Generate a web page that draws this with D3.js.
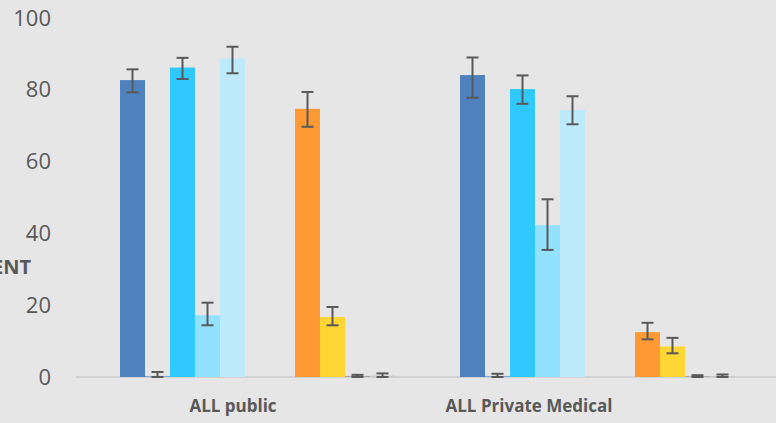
<!DOCTYPE html>
<html>
<head>
<meta charset="utf-8">
<script src="https://cdn.jsdelivr.net/npm/d3@7"></script>
<style>
  html, body { margin: 0; padding: 0; background: #e6e6e6; }
  svg { display: block; }
</style>
</head>
<body>
<div id="chart"></div>
<script>
// Categories and series (two empty slots sit between the blues and the orange)
let categories = ['ALL public', 'ALL Private Medical'];
let seriesKeys = ['s1', 's2', 's3', 's4', 's5', 'gap1', 'gap2', 's6', 's7', 's8', 's9'];
let seriesColors = ['#4f81bd', '#7fa7d9', '#2fc8ff', '#92e1ff', '#bdebfc', 'none', 'none', '#ff9933', '#ffd633', '#a6a6a6', '#c8c8c8'];

// values per series, one per category
let s1 = [82.7, 84.1];
let s2 = [0.3, 0.3];
let s3 = [86.2, 80.2];
let s4 = [17.2, 42.3];
let s5 = [88.7, 74.4];
let s6 = [74.7, 12.5];
let s7 = [16.7, 8.5];
let s8 = [0.3, 0.2];
let s9 = [0.4, 0.3];

// error bars (upper, lower)
let errUp = {s1: [3.0, 4.9], s2: [1.1, 0.6], s3: [2.7, 3.8], s4: [3.5, 7.2], s5: [3.3, 3.8],
             s6: [4.7, 2.6], s7: [2.8, 2.4], s8: [0.3, 0.3], s9: [0.6, 0.4]};
let errDown = {s1: [3.4, 6.3], s2: [0.3, 0.3], s3: [3.2, 4.1], s4: [2.8, 6.9], s5: [4.1, 4.0],
               s6: [5.0, 2.0], s7: [2.3, 1.9], s8: [0.3, 0.2], s9: [0.4, 0.3]};

let yTicks = [0, 20, 40, 60, 80, 100];
let yTitle = 'PERCENT';

let valuesByKey = {s1: s1, s2: s2, s3: s3, s4: s4, s5: s5, s6: s6, s7: s7, s8: s8, s9: s9};

let W = 776, H = 423;
let svg = d3.select('#chart').append('svg')
    .attr('width', W)
    .attr('height', H)
    .style('font-family', '"Open Sans", sans-serif');

svg.append('rect').attr('width', W).attr('height', H).attr('fill', '#e6e6e6');

// scales
let x0 = d3.scaleBand().domain(categories).range([76, 756]);
let x1 = d3.scaleBand().domain(seriesKeys).range([44, 319]);
let y = d3.scaleLinear().domain([0, 100]).range([377, 18]);

// flatten into one record per bar
let bars = [];
categories.forEach(function (c, ci) {
    seriesKeys.forEach(function (k, ki) {
        if (!valuesByKey[k]) return;
        bars.push({
            cat: c, key: k, color: seriesColors[ki],
            value: valuesByKey[k][ci],
            up: errUp[k][ci], down: errDown[k][ci]
        });
    });
});

// baseline
svg.append('line')
    .attr('x1', 76).attr('x2', W)
    .attr('y1', y(0)).attr('y2', y(0))
    .attr('stroke', '#d2d2d2')
    .attr('stroke-width', 2);

// bars
svg.append('g').selectAll('rect')
    .data(bars)
    .join('rect')
    .attr('x', function (d) { return x0(d.cat) + x1(d.key); })
    .attr('width', x1.bandwidth())
    .attr('y', function (d) { return y(d.value); })
    .attr('height', function (d) { return y(0) - y(d.value); })
    .attr('fill', function (d) { return d.color; });

// error bars
let eb = svg.append('g')
    .attr('stroke', '#595959')
    .attr('stroke-width', 2)
    .selectAll('g')
    .data(bars)
    .join('g')
    .attr('transform', function (d) {
        return 'translate(' + (x0(d.cat) + x1(d.key) + x1.bandwidth() / 2) + ',0)';
    });

eb.append('line')
    .attr('y1', function (d) { return y(d.value + d.up); })
    .attr('y2', function (d) { return y(Math.max(0, d.value - d.down)); });
eb.append('line')
    .attr('x1', -6).attr('x2', 6)
    .attr('y1', function (d) { return y(d.value + d.up); })
    .attr('y2', function (d) { return y(d.value + d.up); });
eb.append('line')
    .attr('x1', -6).attr('x2', 6)
    .attr('y1', function (d) { return y(Math.max(0, d.value - d.down)); })
    .attr('y2', function (d) { return y(Math.max(0, d.value - d.down)); });

// y axis
let yAxis = svg.append('g')
    .attr('transform', 'translate(51,0)')
    .call(d3.axisLeft(y).tickValues(yTicks).tickSize(0).tickPadding(0));
yAxis.select('.domain').remove();
yAxis.selectAll('text')
    .attr('fill', '#595959')
    .style('font-size', '22px')
    .style('font-family', '"Open Sans", sans-serif');

// x axis labels
let labelShift = {'ALL public': -13, 'ALL Private Medical': -57};
let xAxis = svg.append('g')
    .attr('transform', 'translate(0,' + y(0) + ')')
    .call(d3.axisBottom(x0).tickSize(0).tickPadding(0));
xAxis.select('.domain').remove();
xAxis.selectAll('text')
    .attr('fill', '#595959')
    .attr('dx', function (d) { return labelShift[d]; })
    .attr('y', 23)
    .style('font-size', '17px')
    .style('font-weight', 'bold')
    .style('font-family', '"Open Sans", sans-serif');

// y title (cut off at the left edge)
svg.append('text')
    .attr('x', 31)
    .attr('y', 274)
    .attr('text-anchor', 'end')
    .attr('fill', '#595959')
    .style('font-size', '20px')
    .style('font-weight', 'bold')
    .text(yTitle);
</script>
</body>
</html>
